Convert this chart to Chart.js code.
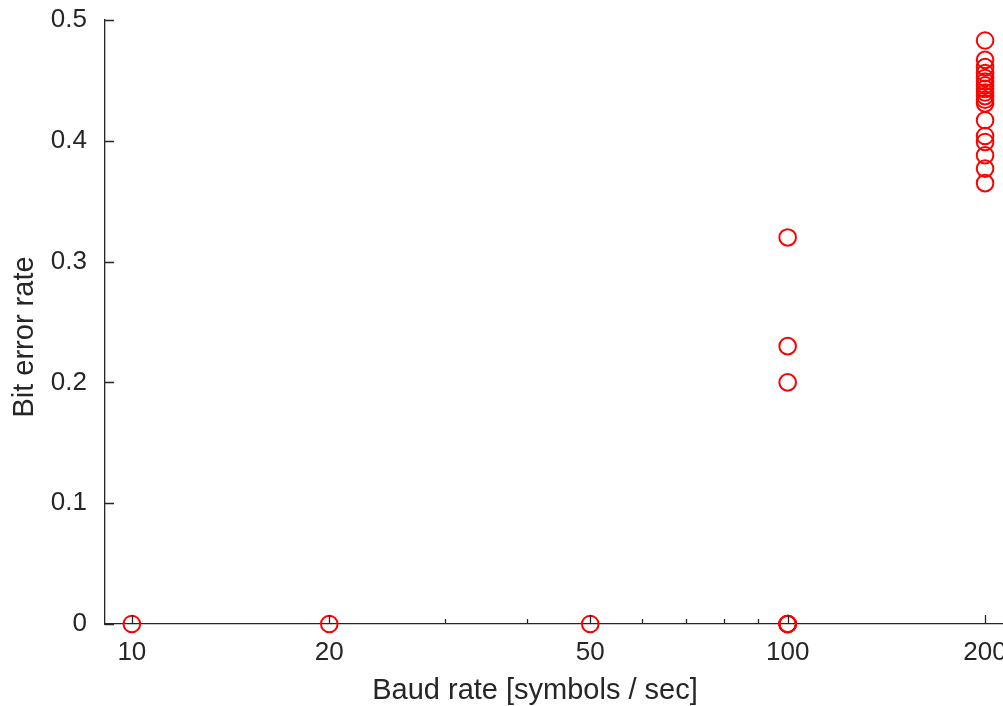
<!DOCTYPE html>
<html>
<head>
<meta charset="utf-8">
<script src="https://cdn.jsdelivr.net/npm/chart.js@4/dist/chart.umd.min.js"></script>
<style>
  html, body { margin:0; padding:0; background:#fff; }
  #wrap { width:1003px; height:706px; position:relative; }
</style>
</head>
<body>
<div id="wrap"><canvas id="c"></canvas></div>
<script>
// data
const baudRates = [
  10, 20, 50,
  100, 100, 100, 100, 100, 100, 100,
  200, 200, 200, 200, 200, 200, 200, 200, 200,
  200, 200, 200, 200, 200, 200, 200, 200, 200
];
const bitErrorRates = [
  0, 0, 0,
  0, 0, 0, 0, 0.200, 0.230, 0.320,
  0.483, 0.467, 0.461, 0.456, 0.452, 0.449, 0.446, 0.443, 0.440,
  0.437, 0.434, 0.431, 0.417, 0.404, 0.399, 0.388, 0.377, 0.365
];
const xTicks = [10, 20, 50, 100, 200];
const xMinorTicks = [30, 40, 60, 70, 80, 90];
const yTicks = [0, 0.1, 0.2, 0.3, 0.4, 0.5];
const xLabel = 'Baud rate [symbols / sec]';
const yLabel = 'Bit error rate';

const axisColor = '#262626';
const fontFamily = '"Liberation Sans", Arial, Helvetica, sans-serif';

const points = baudRates.map((b, i) => ({ x: b, y: bitErrorRates[i] }));

// MATLAB style ticks pointing into the axes
const inwardTicks = {
  id: 'inwardTicks',
  afterDatasetsDraw(chart) {
    const { ctx, chartArea: a, scales: { x, y } } = chart;
    ctx.save();
    ctx.strokeStyle = axisColor;
    ctx.lineWidth = 1.3;
    ctx.beginPath();
    for (const v of xTicks) {
      const px = Math.round(x.getPixelForValue(v)) + 0.5;
      ctx.moveTo(px, a.bottom); ctx.lineTo(px, a.bottom - 9);
    }
    for (const v of xMinorTicks) {
      const px = Math.round(x.getPixelForValue(v)) + 0.5;
      ctx.moveTo(px, a.bottom); ctx.lineTo(px, a.bottom - 5);
    }
    for (const v of yTicks) {
      const py = Math.round(y.getPixelForValue(v)) + 0.5;
      ctx.moveTo(a.left, py); ctx.lineTo(a.left + 9, py);
    }
    ctx.stroke();
    ctx.restore();
  }
};

// axis titles, placed like the original figure (not exactly centred)
const axisTitles = {
  id: 'axisTitles',
  afterDraw(chart) {
    const { ctx, chartArea: a } = chart;
    ctx.save();
    ctx.fillStyle = axisColor;
    ctx.font = '29px ' + fontFamily;
    ctx.textAlign = 'center';
    ctx.textBaseline = 'alphabetic';
    ctx.fillText(xLabel, (a.left + a.right) / 2 - 19, a.bottom + 75);
    ctx.translate(a.left - 72, (a.top + a.bottom) / 2 + 15);
    ctx.rotate(-Math.PI / 2);
    ctx.fillText(yLabel, 0, 0);
    ctx.restore();
  }
};

new Chart(document.getElementById('c'), {
  type: 'scatter',
  data: {
    datasets: [{
      data: points,
      pointStyle: 'circle',
      pointRadius: 8.3,
      pointHoverRadius: 8.3,
      borderWidth: 2,
      borderColor: '#ff0000',
      backgroundColor: 'rgba(0,0,0,0)',
      clip: false
    }]
  },
  options: {
    responsive: true,
    maintainAspectRatio: false,
    animation: false,
    events: [],
    layout: { autoPadding: false, padding: { top: 20, left: 0, right: 0, bottom: 0 } },
    plugins: { legend: { display: false }, tooltip: { enabled: false } },
    scales: {
      x: {
        type: 'logarithmic',
        min: 9.1,
        max: 213,
        grid: { display: false, drawTicks: false },
        border: { display: true, color: axisColor, width: 1.3 },
        afterBuildTicks: s => { s.ticks = xTicks.map(v => ({ value: v })); },
        afterFit: s => { s.height = 82; s.paddingLeft = 0; s.paddingRight = 0; },
        ticks: {
          autoSkip: false,
          maxRotation: 0,
          padding: 13,
          color: axisColor,
          font: { family: fontFamily, size: 26 },
          callback: v => String(v)
        }
      },
      y: {
        min: 0,
        max: 0.5,
        grid: { display: false, drawTicks: false },
        border: { display: true, color: axisColor, width: 1.3 },
        afterBuildTicks: s => { s.ticks = yTicks.map(v => ({ value: v })); },
        afterFit: s => { s.width = 105; s.paddingTop = 0; s.paddingBottom = 0; },
        ticks: {
          padding: 18,
          color: axisColor,
          font: { family: fontFamily, size: 26 },
          callback: v => String(v)
        }
      }
    }
  },
  plugins: [inwardTicks, axisTitles]
});
</script>
</body>
</html>
